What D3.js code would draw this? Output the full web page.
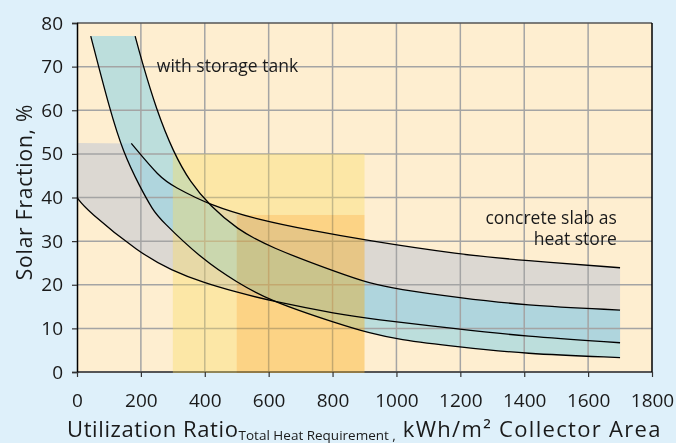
<!DOCTYPE html>
<html>
<head>
<meta charset="utf-8">
<script src="https://cdn.jsdelivr.net/npm/d3@7"></script>
<style>
  html, body { margin: 0; padding: 0; background: #def0fa; }
  svg { display: block; }
  text { font-family: "Open Sans", "Noto Sans", sans-serif; fill: #1a1a1a; }
</style>
</head>
<body>
<svg id="chart" width="676" height="443"></svg>
<script>
// ---------- data ----------
const xTicks = [0, 200, 400, 600, 800, 1000, 1200, 1400, 1600, 1800];
const yTicks = [0, 10, 20, 30, 40, 50, 60, 70, 80];

// "with storage tank" band
const tankTop = 77;
const tankUpper = [[182,77],[202,71.5],[249,60],[301,50.5],[354,43.5],[418,38],[500,32.8],[600,28.7],[823,22.6],[917,20.3],[1000,19],[1199,17],[1397,15.3],[1700,14.2]];
const tankLower = [[43,77],[103,60],[145,50.3],[197,42.4],[238,37.1],[260,35],[395,25.6],[500,20.6],[600,16.4],[823,10.9],[917,8.9],[1000,7.5],[1199,5.7],[1397,4.2],[1700,3.3]];

// "concrete slab as heat store" band
const concreteTop = 52.5;
const concreteUpper = [[170,52.4],[260,44.5],[301,42.6],[416,38.2],[573,34.8],[729,32.5],[902,30.2],[1199,26.9],[1397,25.6],[1700,23.9]];
const concreteLower = [[0,40],[30,37.1],[197,27.2],[296,23.3],[395,20.5],[500,18.3],[600,16.4],[823,13.2],[917,12.2],[1199,9.8],[1397,8.2],[1700,6.7]];

// highlighted ranges
const yellowRange = [300, 900], yellowTop = 50;
const orangeRange = [500, 900], orangeTop = 36;

const labelTank = { text: "with storage tank", x: 250, y: 68.7 };
const labelConcrete = { lines: ["concrete slab as", "heat store"], x: 1690, y: [34.0, 29.0] };

// ---------- drawing ----------
const svg = d3.select("#chart");
const x = d3.scaleLinear().domain([0, 1800]).range([77, 652]);
const y = d3.scaleLinear().domain([0, 80]).range([372, 23]);

const line = d3.line().x(d => x(d[0])).y(d => y(d[1])).curve(d3.curveBasis);

function bandPath(top, upper, lower, leftX) {
  const up = line(upper);
  const low = line(lower.slice().reverse());
  let p = "M" + x(leftX) + "," + y(top) + "L" + up.slice(1) + "L" + low.slice(1);
  if (lower[0][1] < top) p += "L" + x(leftX) + "," + y(lower[0][1]);
  return p + "Z";
}

// plot background
svg.append("rect")
  .attr("x", x(0)).attr("y", y(80))
  .attr("width", x(1800) - x(0)).attr("height", y(0) - y(80))
  .attr("fill", "#feeed0");

// concrete band (gray)
svg.append("path")
  .attr("d", bandPath(concreteTop, concreteUpper, concreteLower, 0))
  .attr("fill", "#dcd8d2");

// tank band (blue, translucent)
svg.append("path")
  .attr("d", bandPath(tankTop, tankUpper, tankLower, tankLower[0][0]))
  .attr("fill", "rgb(147,212,228)")
  .attr("fill-opacity", 0.62);

// grid
const grid = svg.append("g").attr("stroke", "#a4a4a4").attr("stroke-width", 1.5);
grid.selectAll("line.v").data(xTicks.slice(1, -1)).join("line")
  .attr("x1", d => x(d)).attr("x2", d => x(d)).attr("y1", y(0)).attr("y2", y(80));
grid.selectAll("line.h").data(yTicks.slice(1, -1)).join("line")
  .attr("y1", d => y(d)).attr("y2", d => y(d)).attr("x1", x(0)).attr("x2", x(1800));

// bottom axis line (drawn under the highlight rectangles)
svg.append("line")
  .attr("x1", x(0)).attr("x2", x(1800)).attr("y1", y(0)).attr("y2", y(0))
  .attr("stroke", "#555").attr("stroke-width", 2);

// highlight rectangles
svg.append("rect")
  .attr("x", x(yellowRange[0])).attr("width", x(yellowRange[1]) - x(yellowRange[0]))
  .attr("y", y(yellowTop)).attr("height", y(0) - y(yellowTop) + 1)
  .attr("fill", "rgb(250,220,96)").attr("fill-opacity", 0.37);
svg.append("rect")
  .attr("x", x(orangeRange[0])).attr("width", x(orangeRange[1]) - x(orangeRange[0]))
  .attr("y", y(orangeTop)).attr("height", y(0) - y(orangeTop) + 1)
  .attr("fill", "rgb(255,233,205)")
  .style("mix-blend-mode", "multiply");

// curves
const curves = svg.append("g").attr("fill", "none").attr("stroke", "#000").attr("stroke-width", 1.3);
[tankUpper, tankLower, concreteUpper, concreteLower].forEach(s => {
  curves.append("path").attr("d", line(s));
});

// frame: top + right
svg.append("line").attr("x1", x(0)).attr("x2", x(1800)).attr("y1", y(80)).attr("y2", y(80))
  .attr("stroke", "#555").attr("stroke-width", 1.5);
svg.append("line").attr("x1", x(1800)).attr("x2", x(1800)).attr("y1", y(80)).attr("y2", y(0))
  .attr("stroke", "#000").attr("stroke-width", 1.5);

// axes
const yAxis = svg.append("g").attr("transform", `translate(${x(0)},0)`)
  .call(d3.axisLeft(y).tickValues(yTicks).tickFormat(d3.format("d")).tickSize(5).tickPadding(9));
yAxis.select(".domain").attr("stroke", "#000").attr("stroke-width", 1.5);
yAxis.selectAll(".tick line").attr("stroke", "#333").attr("stroke-width", 1.2);
yAxis.selectAll("text").attr("font-size", 19).attr("font-family", '"Open Sans", sans-serif').attr("fill", "#1a1a1a");

const xAxis = svg.append("g").attr("transform", `translate(0,${y(0)})`)
  .call(d3.axisBottom(x).tickValues(xTicks).tickFormat(d3.format("d")).tickSize(5).tickPadding(17));
xAxis.select(".domain").remove();
xAxis.selectAll(".tick line").attr("stroke", "#333").attr("stroke-width", 1.2);
xAxis.selectAll("text").attr("font-size", 19).attr("font-family", '"Open Sans", sans-serif').attr("fill", "#1a1a1a");

// annotations
svg.append("text").attr("x", x(labelTank.x)).attr("y", y(labelTank.y))
  .attr("font-size", 17.5).text(labelTank.text);
labelConcrete.lines.forEach((t, i) => {
  svg.append("text").attr("x", x(labelConcrete.x)).attr("y", y(labelConcrete.y[i]))
    .attr("text-anchor", "end").attr("font-size", 17.5).text(t);
});

// axis titles
const xt = svg.append("text").attr("x", 67).attr("y", 437).attr("font-size", 22).attr("letter-spacing", 0.6);
xt.append("tspan").text("Utilization Ratio");
xt.append("tspan").attr("font-size", 13.5).attr("letter-spacing", 0).attr("dy", 3).text("Total Heat Requirement ,");
xt.append("tspan").attr("dy", -3).attr("letter-spacing", 1.3).text(" kWh/m² Collector Area");

svg.append("text")
  .attr("transform", "translate(32,192) rotate(-90)")
  .attr("text-anchor", "middle").attr("font-size", 21).attr("letter-spacing", 0.8)
  .text("Solar Fraction, %");
</script>
</body>
</html>
